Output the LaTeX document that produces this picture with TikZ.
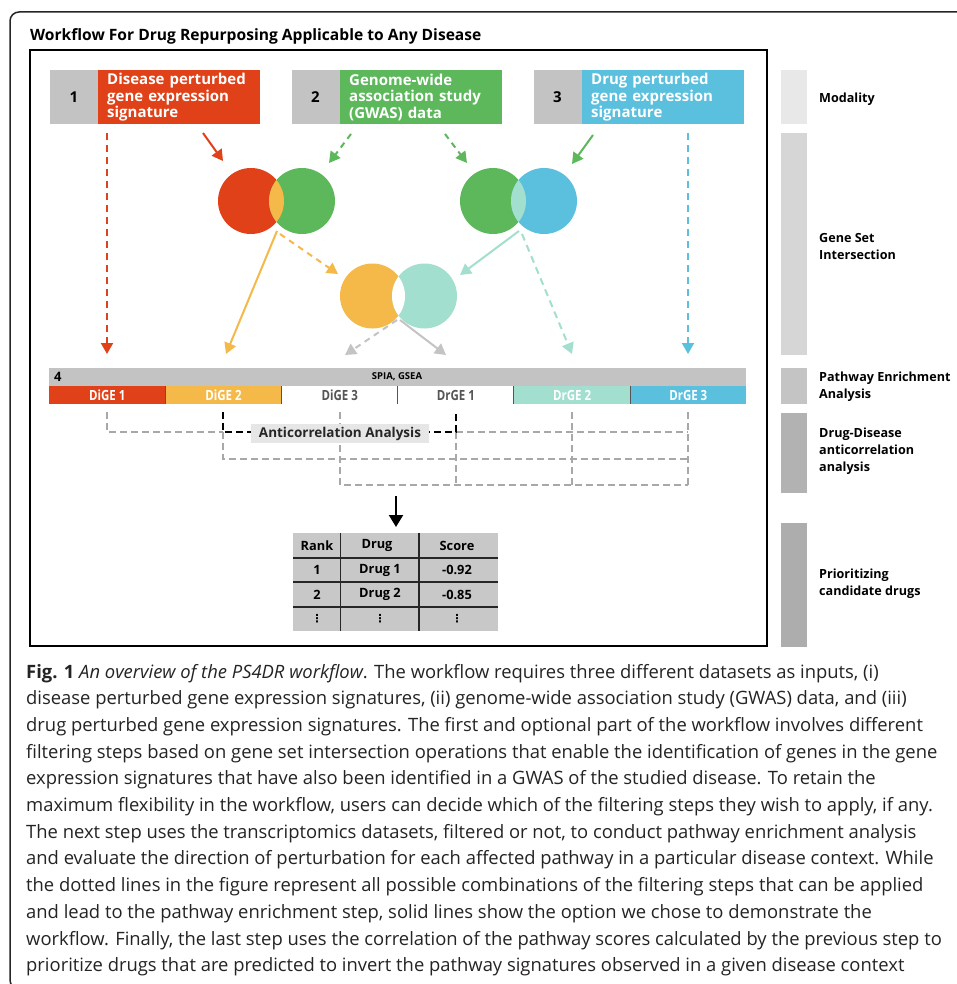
\documentclass[tikz,border=0pt]{standalone}
\usepackage{fontspec}
\setmainfont{Open Sans}
\newfontfamily\capfont{Open Sans}
\newfontfamily\condfont[FakeStretch=0.82]{Open Sans}
\newfontfamily\dejavu{DejaVu Sans}
\usetikzlibrary{arrows.meta}
\definecolor{cred}{HTML}{E04118}
\definecolor{cgreen}{HTML}{5DB85C}
\definecolor{cblue}{HTML}{5BC0DE}
\definecolor{corange}{HTML}{F5B94A}
\definecolor{cteal}{HTML}{A3DFCF}
\definecolor{cgraybox}{HTML}{C3C3C3}
\definecolor{cdash}{HTML}{A8A8A8}
\definecolor{carrgray}{HTML}{C4C4C4}
\definecolor{ctab}{HTML}{C8C8C8}
\definecolor{ctext}{HTML}{252323}
\definecolor{clabel}{HTML}{E6E6E6}
\definecolor{cellgray}{HTML}{555555}
\newcommand{\fsz}[2]{\fontsize{#1pt}{#2pt}\selectfont}
\begin{document}
\begin{tikzpicture}[x=1pt,y=-1pt,
  numbox/.style={fill=cgraybox, minimum width=48pt, minimum height=54pt, inner sep=0pt, font=\bfseries\fsz{15}{18}, text=black},
  headbox/.style={fill=#1, minimum width=162pt, minimum height=54pt, text width=144pt, inner xsep=9pt, inner ysep=0pt, align=left, text=white, font=\bfseries\fsz{15}{16.7}, anchor=north west},
  circ/.style={circle, fill=#1, minimum size=66pt, inner sep=0pt},
  mcirc/.style={circle, fill=#1, minimum size=65pt, inner sep=0pt},
  arr/.style={line width=2pt, draw=#1, -{Triangle[length=11pt,width=12pt,fill=#1]}},
  dsh/.style={dash pattern=on 7pt off 5pt},
  dshs/.style={dash pattern=on 6pt off 5pt},
  cell/.style={fill=#1, minimum width=116.2pt, minimum height=18pt, inner sep=0pt, anchor=north west, font=\condfont\bfseries\fsz{14}{16}},
  gdash/.style={draw=cdash, line width=1.5pt, dash pattern=on 7pt off 4pt},
  bdash/.style={draw=black, line width=1.5pt, dash pattern=on 7pt off 4pt},
  sidebar/.style={fill=#1, minimum width=26pt, inner sep=0pt, anchor=north west},
  sidetext/.style={anchor=west, align=left, inner sep=0pt, font=\bfseries\fsz{12.6}{17}, text=black},
  tabtext/.style={font=\bfseries\fsz{12.8}{15}, text=black, inner sep=0pt},
  capline/.style={anchor=base west, inner sep=0pt, font=\capfont\fsz{18.4}{26}, text=ctext}
]
\useasboundingbox (0,0) rectangle (957,984);
\fill[white] (0,0) rectangle (957,984);
% outer frame
\begin{scope}
  \clip (0,0) rectangle (957,984);
  \draw[line width=1.5pt, draw=black!85, rounded corners=9pt] (10,12) rectangle (1000,989);
\end{scope}
% title
\node[anchor=base west, inner sep=0pt, font=\bfseries\fsz{15.6}{17}, text=black] (title) at (30,41) {Workflow For Drug Repurposing Applicable to Any Disease};
% inner frame
\draw[line width=2.6pt] (30,50) rectangle (767,646);

% header boxes
\node[numbox] (n1) at (74,97) {1};
\node[headbox=cred] (h1) at (98,70) {Disease perturbed\\gene expression\\signature};
\node[numbox] (n2) at (315.5,97) {2};
\node[headbox=cgreen] (h2) at (340,70) {Genome-wide\\association study\\(GWAS) data};
\node[numbox] (n3) at (557.5,97) {3};
\node[headbox=cblue] (h3) at (582,70) {Drug perturbed\\gene expression\\signature};

% circles top left
\node[circ=cred] (c1a) at (251,201) {};
\node[circ=cgreen] (c1b) at (302,201) {};
\begin{scope}
  \clip (251,201) circle[radius=33pt];
  \fill[corange] (302,201) circle[radius=33pt];
\end{scope}
% circles top right
\node[circ=cgreen] (c2a) at (493,201) {};
\node[circ=cblue] (c2b) at (544,201) {};
\begin{scope}
  \clip (493,201) circle[radius=33pt];
  \fill[cteal] (544,201) circle[radius=33pt];
\end{scope}
% circles middle
\node[mcirc=corange] (c3a) at (372.5,296) {};
\node[mcirc=cteal] (c3b) at (424.5,296) {};
\begin{scope}
  \clip (372.5,296) circle[radius=32.5pt];
  \fill[white] (424.5,296) circle[radius=32.5pt];
\end{scope}

% coordinates
\coordinate (s1) at (107,133);
\coordinate (t1) at (107,354);
\coordinate (s6) at (688,133);
\coordinate (t6) at (688,354);
\coordinate (hr) at (203,133);
\coordinate (hrt) at (223,161);
\coordinate (hg1) at (351,134);
\coordinate (hg1t) at (329,163);
\coordinate (hg2) at (445,134);
\coordinate (hg2t) at (467,163);
\coordinate (hb) at (593,135);
\coordinate (hbt) at (572,164);
\coordinate (lL) at (277,231);
\coordinate (lL2) at (280,234);
\coordinate (t2) at (226,354);
\coordinate (mL) at (338,274);
\coordinate (lR) at (519,231);
\coordinate (lR2) at (522,234);
\coordinate (mR) at (460,275);
\coordinate (t5) at (572,354);
\coordinate (lM) at (397,320);
\coordinate (lM2) at (400,320);
\coordinate (t3) at (345,355);
\coordinate (t4) at (446,355);

% arrows from headers
\draw[arr=cred] (hr) -- (hrt);
\draw[arr=cgreen, dshs] (hg1) -- (hg1t);
\draw[arr=cgreen, dshs] (hg2) -- (hg2t);
\draw[arr=cgreen] (hb) -- (hbt);
\draw[arr=cred, dsh] (s1) -- (t1);
\draw[arr=cblue, dsh] (s6) -- (t6);
% arrows from intersections
\draw[arr=corange] (lL) -- (t2);
\draw[arr=corange, dshs] (lL2) -- (mL);
\draw[arr=cteal] (lR) -- (mR);
\draw[arr=cteal, dsh] (lR2) -- (t5);
\draw[arr=carrgray, dshs] (lM) -- (t3);
\draw[arr=carrgray] (lM2) -- (t4);

% bar
\node[fill=cgraybox, minimum width=697pt, minimum height=18pt, inner sep=0pt, anchor=north west] (bar) at (49,368) {};
\node[anchor=west, inner sep=0pt, font=\bfseries\fsz{13}{15}] (four) at (54,377) {4};
\node[inner sep=0pt, font=\bfseries\fsz{9.5}{11}] (spia) at (397,377) {SPIA, GSEA};
\node[cell=cred, text=white] (g1) at (49,386) {DiGE 1};
\node[cell=corange, text=white] (g2) at (165.2,386) {DiGE 2};
\node[cell=white, text=cellgray] (g3) at (281.4,386) {DiGE 3};
\node[cell=white, text=cellgray] (g4) at (397.6,386) {DrGE 1};
\node[cell=cteal, text=white] (g5) at (513.8,386) {DrGE 2};
\node[cell=cblue, text=white] (g6) at (630,386) {DrGE 3};
\foreach \n in {2,3,4,5,6} \draw[cellgray, line width=0.9pt] (g\n.north west) -- (g\n.south west);

% dashed network
\coordinate (d1) at (107,412);
\coordinate (d2) at (223,412);
\coordinate (d3) at (340,412);
\coordinate (d4) at (456,412);
\coordinate (d5) at (572,412);
\coordinate (d6) at (688,412);
\coordinate (e1) at (107,432);
\coordinate (e2) at (223,432);
\coordinate (e4) at (456,432);
\coordinate (f2) at (223,459);
\coordinate (f3) at (340,485);
\coordinate (r1) at (688,432);
\coordinate (r2) at (688,459);
\coordinate (r3) at (688,485);
\draw[gdash] (d1) -- (e1) -- (e2);
\draw[gdash] (e4) -- (r1);
\draw[gdash] (e2) -- (f2) -- (r2);
\draw[gdash] (d3) -- (f3) -- (r3);
\draw[gdash] (e4) -- (456,485);
\draw[gdash] (d5) -- (572,485);
\draw[gdash] (d6) -- (r3);
\draw[bdash] (d2) -- (e2) -- (e4) -- (d4);
\node[fill=clabel, minimum width=178pt, minimum height=19pt, inner sep=0pt, font=\bfseries\fsz{13.5}{15}, text=black!85] (anti) at (340,433.5) {Anticorrelation Analysis};

% arrow to table
\coordinate (ta) at (396,496);
\node[fill=ctab, minimum width=205pt, minimum height=98pt, inner sep=0pt, anchor=north west] (tab) at (293,533) {};
\draw[line width=2pt, -{Triangle[length=12pt,width=14pt]}] (ta) -- ([yshift=6pt]tab.north -| ta);
% table lines
\foreach \yy in {558,582,607} \draw[line width=1.4pt, draw=black!85] (293,\yy) -- (498,\yy);
\foreach \xx in {340.7,419} \draw[line width=1.4pt, draw=black!85] (\xx,533) -- (\xx,631);
\node[tabtext] (r0c1) at (317,545.5) {Rank};
\node[tabtext] (r0c2) at (377,545.5) {Drug};
\node[tabtext] (r0c3) at (457,545.5) {Score};
\node[tabtext] (r1c1) at (317,570) {1};
\node[tabtext] (r1c2) at (380,570) {Drug 1};
\node[tabtext] (r1c3) at (457,570) {-0.92};
\node[tabtext] (r2c1) at (317,594.5) {2};
\node[tabtext] (r2c2) at (380,594.5) {Drug 2};
\node[tabtext] (r2c3) at (457,594.5) {-0.85};
\node[tabtext, font=\dejavu\bfseries\fsz{11}{13}] (r3c1) at (317,619) {⋮};
\node[tabtext, font=\dejavu\bfseries\fsz{11}{13}] (r3c2) at (380,619) {⋮};
\node[tabtext, font=\dejavu\bfseries\fsz{11}{13}] (r3c3) at (457,619) {⋮};

% side column
\node[sidebar=black!9, minimum height=54pt] (sb1) at (781,70) {};
\node[sidebar=black!16, minimum height=222pt] (sb2) at (781,133) {};
\node[sidebar=black!23, minimum height=36pt] (sb3) at (781,368) {};
\node[sidebar=black!30, minimum height=80pt] (sb4) at (781,413) {};
\node[sidebar=black!32, minimum height=124pt] (sb5) at (781,523) {};
\node[sidetext] (st1) at (819,99) {Modality};
\node[sidetext] (st2) at (819,246.5) {Gene Set\\Intersection};
\node[sidetext] (st3) at (819,387) {Pathway Enrichment\\Analysis};
\node[sidetext] (st4) at (819,451) {Drug-Disease\\anticorrelation\\analysis};
\node[sidetext] (st5) at (819,583.5) {Prioritizing\\candidate drugs};

% caption
\node[capline] (cap1) at (26,678) {{\bfseries Fig. 1} {\itshape An overview of the PS4DR workflow}. The workflow requires three different datasets as inputs, (i)};
\node[capline] (cap2) at (26,704.7) {disease perturbed gene expression signatures, (ii) genome-wide association study (GWAS) data, and (iii)};
\node[capline] (cap3) at (26,731.4) {drug perturbed gene expression signatures. The first and optional part of the workflow involves different};
\node[capline] (cap4) at (26,758.1) {filtering steps based on gene set intersection operations that enable the identification of genes in the gene};
\node[capline] (cap5) at (26,784.8) {expression signatures that have also been identified in a GWAS of the studied disease. To retain the};
\node[capline] (cap6) at (26,811.5) {maximum flexibility in the workflow, users can decide which of the filtering steps they wish to apply, if any.};
\node[capline] (cap7) at (26,838.2) {The next step uses the transcriptomics datasets, filtered or not, to conduct pathway enrichment analysis};
\node[capline] (cap8) at (26,864.9) {and evaluate the direction of perturbation for each affected pathway in a particular disease context. While};
\node[capline] (cap9) at (26,891.6) {the dotted lines in the figure represent all possible combinations of the filtering steps that can be applied};
\node[capline] (cap10) at (26,918.3) {and lead to the pathway enrichment step, solid lines show the option we chose to demonstrate the};
\node[capline] (cap11) at (26,945) {workflow. Finally, the last step uses the correlation of the pathway scores calculated by the previous step to};
\node[capline] (cap12) at (26,971.7) {prioritize drugs that are predicted to invert the pathway signatures observed in a given disease context};
\end{tikzpicture}
\end{document}
